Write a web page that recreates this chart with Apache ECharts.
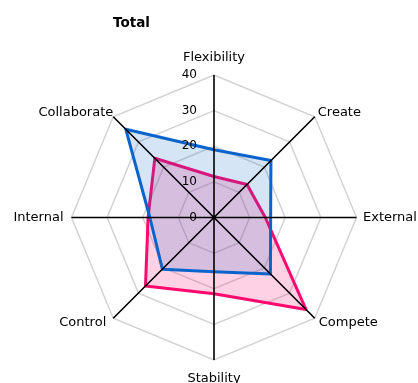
<!DOCTYPE html>
<html>
<head>
<meta charset="utf-8">
<script src="https://cdn.jsdelivr.net/npm/echarts@6/dist/echarts.min.js"></script>
<style>
  html, body { margin: 0; padding: 0; background: #fff; }
  #chart { width: 418px; height: 383px; }
</style>
</head>
<body>
<div id="chart"></div>
<script>
// Radar indicators, listed counter-clockwise from the top
const dimensions = ['Flexibility', 'Collaborate', 'Internal', 'Control', 'Stability', 'Compete', 'External', 'Create'];
const axisMax = 40;
const tickStep = 10;

// Scores per dimension (same order as dimensions)
const seriesA = [19, 35, 18, 20.5, 15.2, 22.4, 15.9, 22.6];   // blue
const seriesB = [11.5, 23.5, 18.5, 27.2, 21.4, 36.5, 14.4, 13.1]; // pink

const center = [214, 217.5];
const radius = 142.5;
const font = 'DejaVu Sans';

// spacing of each indicator name from the end of its spoke
const namePad = {
  Flexibility: [0, 0, 11, 0],
  Collaborate: [0, 0, 9, 0],
  Internal:    [0, 8, 0, 0],
  Control:     [9, 7, 0, 0],
  Stability:   [12, 0, 0, 0],
  Compete:     [9, 0, 0, 4],
  External:    [0, 0, 0, 6.5],
  Create:      [0, 0, 9, 3]
};
const rich = {};
dimensions.forEach(n => {
  rich[n] = { color: '#000', fontFamily: font, fontSize: 13, padding: namePad[n] };
});

const chart = echarts.init(document.getElementById('chart'));
chart.setOption({
  backgroundColor: '#fff',
  animation: false,
  title: {
    text: 'Total',
    left: 113,
    top: 16,
    padding: 0,
    textStyle: { fontFamily: font, fontSize: 13.5, fontWeight: 'bold', color: '#000' }
  },
  radar: {
    center: center,
    radius: radius,
    startAngle: 90,
    shape: 'polygon',
    splitNumber: axisMax / tickStep,
    indicator: dimensions.map(n => ({ name: n, min: 0, max: axisMax })),
    nameGap: 0,
    axisName: {
      color: '#000', fontFamily: font, fontSize: 13,
      formatter: name => '{' + name + '|' + name + '}',
      rich: rich
    },
    axisLine: { show: false },
    axisTick: { show: false },
    axisLabel: { show: false },
    splitArea: { show: false },
    splitLine: { lineStyle: { color: '#d3d3d3', width: 1.5 } }
  },
  // polar overlay: black spokes on top of the areas, tick labels on the vertical spoke
  polar: { center: center, radius: radius },
  angleAxis: {
    type: 'category',
    data: dimensions,
    startAngle: 90,
    boundaryGap: false,
    z: 10,
    axisLine: { show: false },
    axisTick: { show: false },
    axisLabel: { show: false },
    splitLine: { show: true, lineStyle: { color: '#000', width: 1.6 } }
  },
  radiusAxis: {
    min: 0,
    max: axisMax,
    interval: tickStep,
    z: 10,
    axisLine: { show: false },
    axisTick: { show: false },
    splitLine: { show: false },
    axisLabel: { color: '#000', fontFamily: font, fontSize: 12, margin: 17 }
  },
  series: [
    {
      type: 'radar',
      symbol: 'none',
      z: 2,
      data: [{
        value: seriesB,
        lineStyle: { color: '#ff0a6e', width: 3 },
        areaStyle: { color: 'rgba(255,10,110,0.27)' }
      }]
    },
    {
      type: 'radar',
      symbol: 'none',
      z: 3,
      data: [{
        value: seriesA,
        lineStyle: { color: '#0a64cc', width: 3 },
        areaStyle: { color: 'rgba(10,100,204,0.24)' }
      }]
    }
  ]
});
</script>
</body>
</html>
